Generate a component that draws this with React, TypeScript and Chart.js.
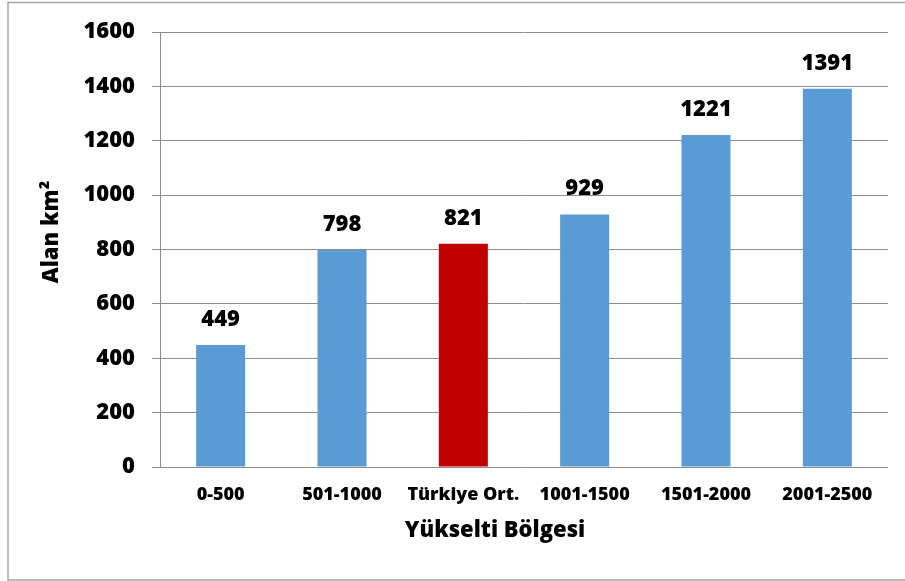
import React, { useEffect, useRef } from 'react';
import { Chart, registerables } from 'chart.js';

Chart.register(...registerables);

const categories = ['0-500', '501-1000', 'Türkiye Ort.', '1001-1500', '1501-2000', '2001-2500'];
const areaValues = [449, 798, 821, 929, 1221, 1391];
const barColors = ['#5B9BD5', '#5B9BD5', '#C00000', '#5B9BD5', '#5B9BD5', '#5B9BD5'];
const yMin = 0;
const yMax = 1600;
const yStep = 200;
const xTitle = 'Yükselti Bölgesi';
const yTitle = 'Alan km²';

const FONT = '"Open Sans", "DejaVu Sans", sans-serif';
const WEIGHT = '800';

const framePlugin = {
  id: 'frame',
  beforeDraw(chart: any) {
    const ctx = chart.ctx;
    ctx.save();
    ctx.fillStyle = '#ffffff';
    ctx.fillRect(0, 0, chart.width, chart.height);
    ctx.strokeStyle = '#a6a6a6';
    ctx.lineWidth = 1.5;
    ctx.strokeRect(8, 2.5, chart.width + 10, 577.5);
    ctx.restore();
  },
};

const labelsPlugin = {
  id: 'valueLabels',
  afterDatasetsDraw(chart: any) {
    const ctx = chart.ctx;
    const meta = chart.getDatasetMeta(0);
    const data = chart.data.datasets[0].data;
    ctx.save();
    ctx.fillStyle = '#000000';
    ctx.font = `${WEIGHT} 22px ${FONT}`;
    ctx.textAlign = 'center';
    ctx.textBaseline = 'alphabetic';
    meta.data.forEach((el: any, i: number) => {
      ctx.fillText(String(data[i]), el.x, el.y - 19);
    });
    ctx.restore();
  },
};

const titlesPlugin = {
  id: 'axisTitles',
  afterDraw(chart: any) {
    const ctx = chart.ctx;
    ctx.save();
    ctx.fillStyle = '#000000';
    ctx.font = `${WEIGHT} 22px ${FONT}`;
    ctx.textAlign = 'center';
    ctx.textBaseline = 'alphabetic';
    ctx.fillText(xTitle, 495, 537);
    ctx.translate(58, 232);
    ctx.rotate(-Math.PI / 2);
    ctx.fillText(yTitle, 0, 0);
    ctx.restore();
  },
};

export default function App() {
  const canvasRef = useRef<HTMLCanvasElement | null>(null);

  useEffect(() => {
    document.body.style.margin = '0';
    const canvas = canvasRef.current;
    if (!canvas) return;
    const chart = new Chart(canvas, {
      type: 'bar',
      data: {
        labels: categories,
        datasets: [
          {
            data: areaValues,
            backgroundColor: barColors,
            borderWidth: 0,
            categoryPercentage: 1,
            barPercentage: 0.404,
          },
        ],
      },
      options: {
        animation: false,
        responsive: true,
        maintainAspectRatio: false,
        devicePixelRatio: 1,
        layout: { padding: { top: 32, right: 17, left: 0, bottom: 0 } },
        plugins: {
          legend: { display: false },
          tooltip: { enabled: false },
        },
        scales: {
          x: {
            grid: { display: false, drawTicks: false },
            border: { display: false },
            ticks: {
              color: '#000000',
              font: { family: FONT, weight: WEIGHT, size: 18 },
              padding: 17,
              maxRotation: 0,
              autoSkip: false,
            },
            afterFit(scale: any) {
              scale.height = 581 - 467;
            },
          },
          y: {
            min: yMin,
            max: yMax,
            grid: { color: '#8c8c8c', lineWidth: 1, tickLength: 8, drawTicks: true },
            border: { display: true, color: '#8c8c8c', width: 1 },
            ticks: {
              stepSize: yStep,
              color: '#000000',
              font: { family: FONT, weight: WEIGHT, size: 22 },
              padding: 17,
              callback: (value: any) => String(value),
            },
            afterFit(scale: any) {
              scale.width = 160;
            },
          },
        },
      },
      plugins: [framePlugin, labelsPlugin, titlesPlugin],
    });
    return () => chart.destroy();
  }, []);

  return (
    <div style={{ position: 'absolute', left: 0, top: 0, width: 905, height: 581 }}>
      <canvas ref={canvasRef} />
    </div>
  );
}
